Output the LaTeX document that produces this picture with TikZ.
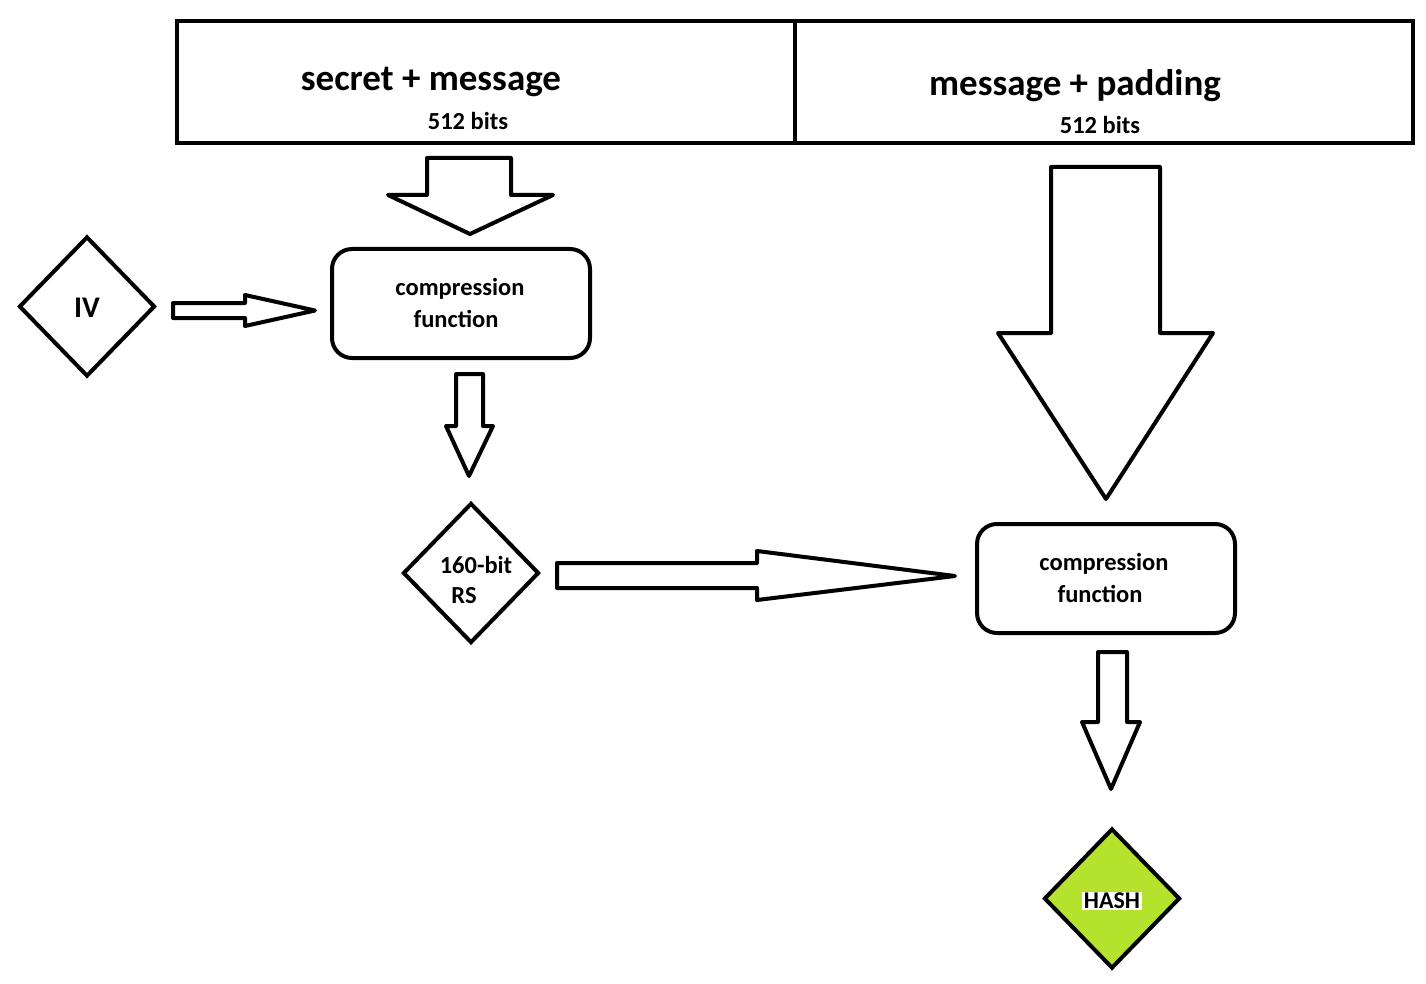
\documentclass[tikz,border=0pt]{standalone}
\usepackage{fontspec}
\setmainfont{Carlito}
\usetikzlibrary{shapes.geometric}
\definecolor{hashgreen}{HTML}{B5E32D}
\tikzset{
  blockarrow/.style={draw, line width=4pt, line join=round, fill=white},
  roundbox/.style={draw, line width=4pt, rounded corners=20pt, minimum width=258pt, minimum height=109pt, inner sep=0pt},
  dia/.style={draw, diamond, line width=4pt, inner sep=0pt, minimum width=136pt, minimum height=140pt, shape aspect=0.97},
  big/.style={font=\fontsize{37}{42}\selectfont\bfseries, inner sep=0pt},
  small/.style={font=\fontsize{24.5}{28}\selectfont\bfseries, inner sep=0pt},
  mid/.style={font=\fontsize{24.5}{28}\selectfont\bfseries, inner sep=0pt},
}
\begin{document}
\begin{tikzpicture}[x=1pt, y=-1pt]
\useasboundingbox (0,0) rectangle (1426,984);
% top boxes
\node[draw, line width=4pt, minimum width=618pt, minimum height=122pt, inner sep=0pt, anchor=north west] (left) at (175,19) {};
\node[draw, line width=4pt, minimum width=618pt, minimum height=122pt, inner sep=0pt, anchor=north west] (right) at (793,19) {};
\node[big] (t1) at (431,82) {secret + message};
\node[small] (b1) at (468,121) {512 bits};
\node[big] (t2) at (1075,86) {message + padding};
\node[small] (b2) at (1100,125) {512 bits};
% compression boxes
\node[roundbox] (cf1) at (461,303.5) {};
\node[mid] (cf1a) at (460,289) {compression};
\node[mid] (cf1b) at (456,319) {function};
\node[roundbox] (cf2) at (1106,578.5) {};
\node[mid] (cf2a) at (1104,564) {compression};
\node[mid] (cf2b) at (1100,594) {function};
% diamonds
\node[dia] (iv) at (87,306.5) {};
\node[font=\fontsize{30}{34}\selectfont\bfseries, inner sep=0pt] (ivt) at (87,308) {IV};
\node[dia] (rs) at (471,573) {};
\node[mid] (rsa) at (476,565) {160-bit};
\node[mid] (rsb) at (464,596) {RS};
\node[dia, fill=hashgreen] (hash) at (1112,898.5) {};
\node[font=\fontsize{24}{28}\selectfont\bfseries, fill=white, inner sep=1.5pt] (hasht) at (1112,901) {HASH};
% block arrows
\draw[blockarrow] (427,158) -- (511,158) -- (511,195) -- (553,195) -- (470,234) -- (388,195) -- (427,195) -- cycle;
\draw[blockarrow] (173,303) -- (245,303) -- (245,295) -- (315,310.5) -- (245,326) -- (245,318) -- (173,318) -- cycle;
\draw[blockarrow] (456,374) -- (483,374) -- (483,426) -- (493,426) -- (469,476) -- (446,426) -- (456,426) -- cycle;
\draw[blockarrow] (557,563) -- (757,563) -- (757,551) -- (955,576) -- (757,600) -- (757,588) -- (557,588) -- cycle;
\draw[blockarrow] (1051,167) -- (1160,167) -- (1160,333) -- (1213,333) -- (1106,499) -- (998,333) -- (1051,333) -- cycle;
\draw[blockarrow] (1098,652) -- (1127,652) -- (1127,722) -- (1140,722) -- (1111,789) -- (1082,722) -- (1098,722) -- cycle;
\end{tikzpicture}
\end{document}
